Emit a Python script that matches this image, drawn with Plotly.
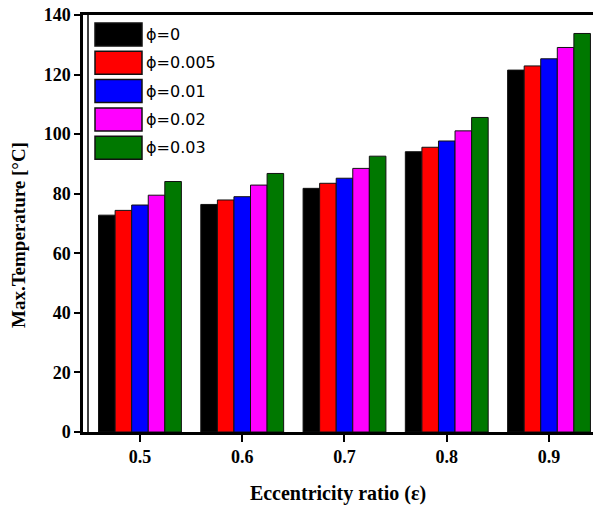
import plotly.graph_objects as go

# Eccentricity ratios (x categories) and maximum temperature for each nanoparticle fraction
eccentricity = [0.5, 0.6, 0.7, 0.8, 0.9]
series_names = ["ϕ=0", "ϕ=0.005", "ϕ=0.01", "ϕ=0.02", "ϕ=0.03"]
temp_phi_0 = [72.8, 76.4, 81.8, 94.1, 121.5]
temp_phi_0005 = [74.4, 77.9, 83.5, 95.6, 122.9]
temp_phi_001 = [76.2, 79.0, 85.2, 97.7, 125.3]
temp_phi_002 = [79.5, 82.9, 88.5, 101.1, 129.1]
temp_phi_003 = [84.1, 86.8, 92.6, 105.6, 133.8]
series_values = [temp_phi_0, temp_phi_0005, temp_phi_001, temp_phi_002, temp_phi_003]
colors = ["#000000", "#ff0000", "#0000ff", "#ff00ff", "#007800"]

y_ticks = [0, 20, 40, 60, 80, 100, 120, 140]

W, H = 593, 508
ML, MR, MT, MB = 83, 0, 15, 76
PW, PH = W - ML - MR, H - MT - MB

def px_x(px):
    return (px - ML) / PW

def px_y(py):
    return (H - MB - py) / PH

fig = go.Figure()
for name, vals, col in zip(series_names, series_values, colors):
    fig.add_trace(go.Bar(
        x=eccentricity, y=vals, name=name,
        marker=dict(color=col, line=dict(color="#111111", width=1)),
        showlegend=False,
    ))

serif = "Liberation Serif, Times New Roman, serif"

# Boxed legend swatches drawn on the plot
shapes = []
annotations = []
for i, (name, col) in enumerate(zip(series_names, colors)):
    top = 23 + i * 28.3
    shapes.append(dict(
        type="rect", xref="paper", yref="paper",
        x0=px_x(95), x1=px_x(142), y0=px_y(top + 23), y1=px_y(top),
        fillcolor=col, line=dict(color="#111111", width=1.5),
    ))
    annotations.append(dict(
        xref="paper", yref="paper", x=px_x(144), y=px_y(top + 11.5),
        text=name, showarrow=False, xanchor="left", yanchor="middle",
        font=dict(family="DejaVu Sans, Verdana, sans-serif", size=16, color="#000000"),
    ))

# Y-axis title, placed as a rotated label
annotations.append(dict(
    xref="paper", yref="paper", x=px_x(18), y=px_y(235),
    text="Max.Temperature [°C]", textangle=-90, showarrow=False,
    xanchor="center", yanchor="middle",
    font=dict(family=serif, size=19, color="black", weight="bold"),
))

# Inner vertical frame line next to the left axis
shapes.append(dict(
    type="line", xref="paper", yref="paper",
    x0=px_x(88), x1=px_x(88), y0=0, y1=1,
    line=dict(color="#000000", width=1.5),
))

fig.update_layout(
    width=W, height=H,
    margin=dict(l=ML, r=MR, t=MT, b=MB),
    paper_bgcolor="white", plot_bgcolor="white",
    barmode="group", bargap=0.19, bargroupgap=0,
    shapes=shapes, annotations=annotations,
    xaxis=dict(
        range=[0.4443, 0.943],
        tickvals=eccentricity, ticktext=[f"{v:.1f}" for v in eccentricity],
        ticks="outside", ticklen=7, tickwidth=2, tickcolor="black",
        showline=True, linewidth=2.5, linecolor="black", mirror=True,
        showgrid=False, zeroline=False,
        tickfont=dict(family=serif, size=18, color="black", weight="bold"),
        title=dict(text="Eccentricity ratio (ε)", standoff=20,
                   font=dict(family=serif, size=20, color="black", weight="bold")),
    ),
    yaxis=dict(
        range=[0, 140], tickvals=y_ticks,
        ticks="outside", ticklen=6, tickwidth=2, tickcolor="black",
        showline=True, linewidth=2.5, linecolor="black", mirror=False,
        showgrid=False, zeroline=False,
        tickfont=dict(family=serif, size=18, color="black", weight="bold"),
    ),
)

fig.write_html("out.html")
